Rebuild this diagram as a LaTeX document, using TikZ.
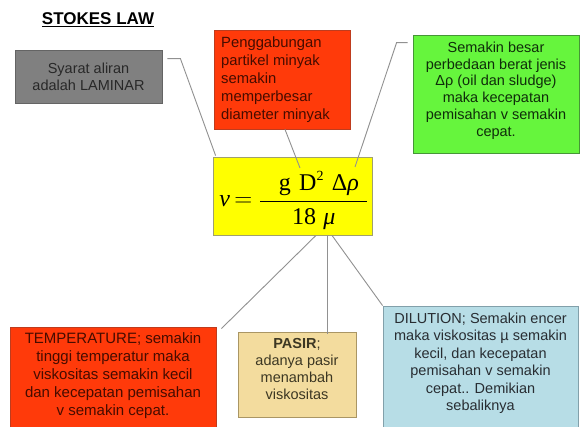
\documentclass[tikz,border=0pt]{standalone}
\usepackage{fontspec}
\setmainfont{Liberation Sans}
\newfontfamily\tmsf{Liberation Serif}
\usetikzlibrary{calc}

\definecolor{redbox}{RGB}{255,58,10}
\definecolor{redline}{RGB}{190,60,30}
\definecolor{graybox}{RGB}{128,128,128}
\definecolor{grayline}{RGB}{100,100,100}
\definecolor{greenbox}{RGB}{102,245,61}
\definecolor{greenline}{RGB}{70,150,55}
\definecolor{yellowbox}{RGB}{255,255,0}
\definecolor{yellowline}{RGB}{160,160,110}
\definecolor{tanbox}{RGB}{243,220,158}
\definecolor{tanline}{RGB}{170,150,100}
\definecolor{bluebox}{RGB}{183,221,230}
\definecolor{blueline}{RGB}{130,160,170}
\definecolor{conn}{RGB}{145,145,145}
\definecolor{darkred}{RGB}{70,12,0}
\definecolor{darkgray}{RGB}{40,40,40}
\definecolor{darkgreen}{RGB}{15,45,10}
\definecolor{darktan}{RGB}{60,55,35}
\definecolor{darkblue}{RGB}{40,45,50}

\begin{document}
\begin{tikzpicture}[x=1pt,y=-1pt,
  box/.style={rectangle, line width=0.8pt, inner sep=0pt},
  txt/.style={inner sep=0pt, align=center, font=\fontsize{14.5}{17.5}\selectfont},
  connector/.style={draw=conn, line width=0.9pt}
]
\useasboundingbox (0,0) rectangle (581,427);
\clip (0,0) rectangle (581,427);
\fill[white] (0,0) rectangle (581,427);

% title
\node[inner sep=0pt] (title) at (98,20) {\fontsize{17}{20}\selectfont\bfseries\underline{STOKES LAW}};

% gray box
\node[box, draw=grayline, fill=graybox, minimum width=147, minimum height=53,
      text=darkgray, align=center, font=\fontsize{14.5}{17}\selectfont] (gray) at (88.5,76.5)
      {Syarat aliran\\adalah LAMINAR};

% red top box
\node[box, draw=redline, fill=redbox, minimum width=136, minimum height=99] (redtop) at (282,79.5) {};
\node[txt, align=left, text=darkred, font=\fontsize{14.8}{18}\selectfont, anchor=west] (redtoptxt) at (221,80)
      {Penggabungan\\partikel minyak\\semakin\\memperbesar\\diameter minyak};

% green box
\node[box, draw=greenline, fill=greenbox, minimum width=166, minimum height=118] (green) at (496,94) {};
\node[txt, text=darkgreen, font=\fontsize{14.5}{16.8}\selectfont] (greentxt) at (496,90.5)
      {Semakin besar\\perbedaan berat jenis\\Δρ (oil dan sludge)\\maka kecepatan\\pemisahan v semakin\\cepat.};

% yellow formula box
\node[box, draw=yellowline, fill=yellowbox, minimum width=159, minimum height=78] (yellow) at (292.5,196) {};
\node[inner sep=0pt] (formula) at (294,200)
  {\fontsize{24}{28}\selectfont
   $\displaystyle\hbox{\tmsf\itshape v}\,{=}\;\frac{\hbox to 107pt{\hspace{10pt}\hfil\tmsf g\hspace{0.35em}D\raisebox{0.42em}{\fontsize{14}{16}\selectfont 2}\hspace{0.35em}Δ\itshape ρ\hfil}}
     {\hbox{\tmsf 18\hspace{0.3em}\itshape μ}}$};

% bottom boxes
\node[box, draw=redline, fill=redbox, minimum width=206, minimum height=104] (temp) at (113,379) {};
\node[txt, text=darkred, font=\fontsize{15}{18}\selectfont] (temptxt) at (113,376)
      {TEMPERATURE; semakin\\tinggi temperatur maka\\viskositas semakin kecil\\dan kecepatan pemisahan\\v semakin cepat.};

\node[box, draw=tanline, fill=tanbox, minimum width=118, minimum height=85] (pasir) at (297,374.5) {};
\node[txt, text=darktan, font=\fontsize{14.5}{17}\selectfont] (pasirtxt) at (297,369)
      {\textbf{PASIR};\\adanya pasir\\menambah\\viskositas};

\node[box, draw=blueline, fill=bluebox, minimum width=195, minimum height=126] (dil) at (480.5,369) {};
\node[txt, text=darkblue, font=\fontsize{14.5}{17.5}\selectfont] (diltxt) at (480.5,363.5)
      {DILUTION; Semakin encer\\maka viskositas µ semakin\\kecil, dan kecepatan\\pemisahan v semakin\\cepat.. Demikian\\sebaliknya};

% anchor points inside the formula
\coordinate (Dpt) at (300,168);
\coordinate (rhopt) at (355,167);

% connectors
\draw[connector] ($(gray.north east)+(5,9)$) -- ++(13,0) -- ($(yellow.north west)+(3,-1)$);
\draw[connector] ($(redtop.south)+(3,0)$) -- (Dpt);
\draw[connector] ($(green.north west)+(-5,8)$) -- ++(-11,0) -- (rhopt);
\draw[connector] ($(yellow.south)+(23.5,0)$) -- ($(temp.north east)+(5,2)$);
\draw[connector] ($(yellow.south)+(34.5,0)$) -- ($(pasir.north)+(30,2)$);
\draw[connector] ($(yellow.south)+(39.5,0)$) -- (dil.north west);
\end{tikzpicture}
\end{document}
